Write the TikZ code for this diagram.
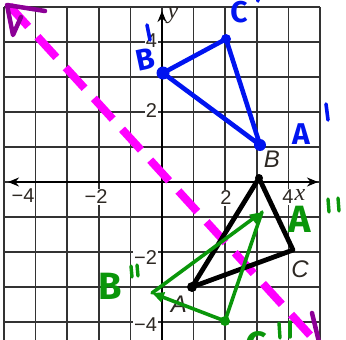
\documentclass[tikz,border=0pt]{standalone}
\usepackage{fontspec}
\setmainfont{Liberation Serif}
\newfontfamily\numfont{Liberation Sans}
\newfontfamily\handfont{Fira Sans}
\usetikzlibrary{arrows.meta}
\definecolor{penblue}{RGB}{0,20,240}
\definecolor{pengreen}{RGB}{10,150,10}
\definecolor{hotmag}{RGB}{255,0,255}
\definecolor{penpurple}{RGB}{140,0,150}
\definecolor{printink}{RGB}{45,40,35}
\begin{document}
\begin{tikzpicture}[x=1pt,y=-1pt,
  gridln/.style={draw=black!80, line width=1.7pt},
  axisln/.style={draw=black, line width=2.6pt},
  ticklbl/.style={text=printink, font=\numfont\fontsize{20}{20}\selectfont, inner sep=0.8pt, fill=white},
  varlbl/.style={text=printink, font=\itshape\fontsize{24}{24}\selectfont, inner sep=0pt},
  ptlbl/.style={text=printink, font=\numfont\itshape\fontsize{24}{24}\selectfont, inner sep=0pt},
  blueln/.style={draw=penblue, line width=4.6pt, line cap=round, line join=round},
  greenln/.style={draw=pengreen, line width=3.6pt, line cap=round, line join=round},
  blackln/.style={draw=black, line width=4.8pt, line cap=round, line join=round},
  bluelbl/.style={text=penblue, font=\handfont\bfseries\fontsize{30}{30}\selectfont, inner sep=0pt},
  greenlbl/.style={text=pengreen, font=\handfont\bfseries\fontsize{38}{38}\selectfont, inner sep=0pt},
  blueprime/.style={draw=penblue, line width=3.6pt, line cap=round},
  greenprime/.style={draw=pengreen, line width=3.4pt, line cap=round},
  mirror/.style={draw=hotmag, line width=8pt, dash pattern=on 28pt off 13.8pt},
  purpleln/.style={draw=penpurple, line width=4.5pt, line cap=round, line join=round},
  gtip/.style={-{Triangle[length=12pt,width=10pt]}}
]
\useasboundingbox (0,0) rectangle (346,340);
\clip (0,0) rectangle (346,340);
% grid
\foreach \i in {0,...,10} \draw[gridln] ({4+31.6*\i},7) -- ({4+31.6*\i},345);
\foreach \j in {0,...,10} \draw[gridln] (4,{7+35*\j}) -- (320,{7+35*\j});
% axes
\coordinate (xleft) at (8,182);
\coordinate (xright) at (318,182);
\coordinate (ytop) at (162,11);
\coordinate (ybot) at (162,345);
\draw[axisln, {Stealth[length=11pt,width=9pt]}-{Stealth[length=11pt,width=9pt]}] (xleft) -- (xright);
\draw[axisln, -{Stealth[length=11pt,width=9pt]}] (ybot) -- (ytop);
% tick labels
\node[ticklbl, anchor=east] (ty4) at (158,41) {4};
\node[ticklbl, anchor=east] (ty2) at (158,111) {2};
\node[ticklbl, anchor=east] (tym2) at (158,258) {−2};
\node[ticklbl, anchor=east] (tym4) at (158,325) {−4};
\node[ticklbl] (txm4) at (23,196) {−4};
\node[ticklbl] (txm2) at (96,197) {−2};
\node[ticklbl] (tx2) at (226,198) {2};
\node[ticklbl] (tx4) at (288,197) {4};
\node[varlbl] (xname) at (300,195) {x};
\node[varlbl] (yname) at (173,16) {y};
% mirror line
\coordinate (m1) at (9.3,5.8);
\coordinate (m2) at (319,345);
\draw[mirror] (m1) -- (m2);
% original triangle ABC
\coordinate (A) at (192,287);
\coordinate (B) at (259,178);
\coordinate (C) at (293,250);
\draw[blackln] (A) -- (B) -- (C) -- cycle;
\fill (A) circle (5);
\fill (B) circle (4);
\node[ptlbl] (lblB) at (272,159) {B};
\node[ptlbl] (lblC) at (300,269) {C};
\node[ptlbl] (lblA) at (179,304) {A};
% blue image
\coordinate (A1) at (260,145);
\coordinate (B1) at (163,73);
\coordinate (C1) at (226,39);
\draw[blueln] (B1) -- (C1) -- (A1) -- cycle;
\fill[penblue] (A1) circle (6);
\fill[penblue] (B1) circle (6.5);
\fill[penblue] (C1) circle (5);
\node[bluelbl, rotate=12] (lblB1) at (145,59) {B};
\draw[blueprime] (147,25) -- (150,40);
\node[bluelbl] (lblC1) at (239,12) {C};
\draw[blueprime] (257,-6) -- (258,1);
\node[bluelbl] (lblA1) at (301,134) {A};
\draw[blueprime] (326,104) -- (328,120);
% green image
\coordinate (A2) at (262,212);
\coordinate (B2) at (152,293);
\coordinate (C2) at (225,321);
\draw[greenln, gtip] (B2) -- (A2);
\draw[greenln] (A2) -- (C2);
\draw[greenln, gtip] (C2) -- (B2);
\fill[pengreen] (C2) circle (5);
\node[greenlbl] (lblA2) at (300,219) {A};
\draw[greenprime] (328,199) -- (329,212);
\draw[greenprime] (338,198) -- (339,211);
\node[greenlbl] (lblB2) at (110,286) {B};
\draw[greenprime] (131,266) -- (132,277);
\draw[greenprime] (137,265) -- (138,276);
\node[greenlbl] (lblC2) at (256,345) {C};
\draw[greenprime] (279,323) -- (280,338);
\draw[greenprime] (290,322) -- (290,337);
% purple arrow strokes
\coordinate (p1) at (45,11);
\coordinate (p2) at (7,5);
\coordinate (p3) at (13,35);
\coordinate (p4) at (21,17);
\draw[purpleln] (p1) -- (p2) -- (p3) -- (p4);
\coordinate (q1) at (312,313);
\coordinate (q2) at (319,342);
\draw[purpleln] (q1) -- (q2);
\end{tikzpicture}
\end{document}
